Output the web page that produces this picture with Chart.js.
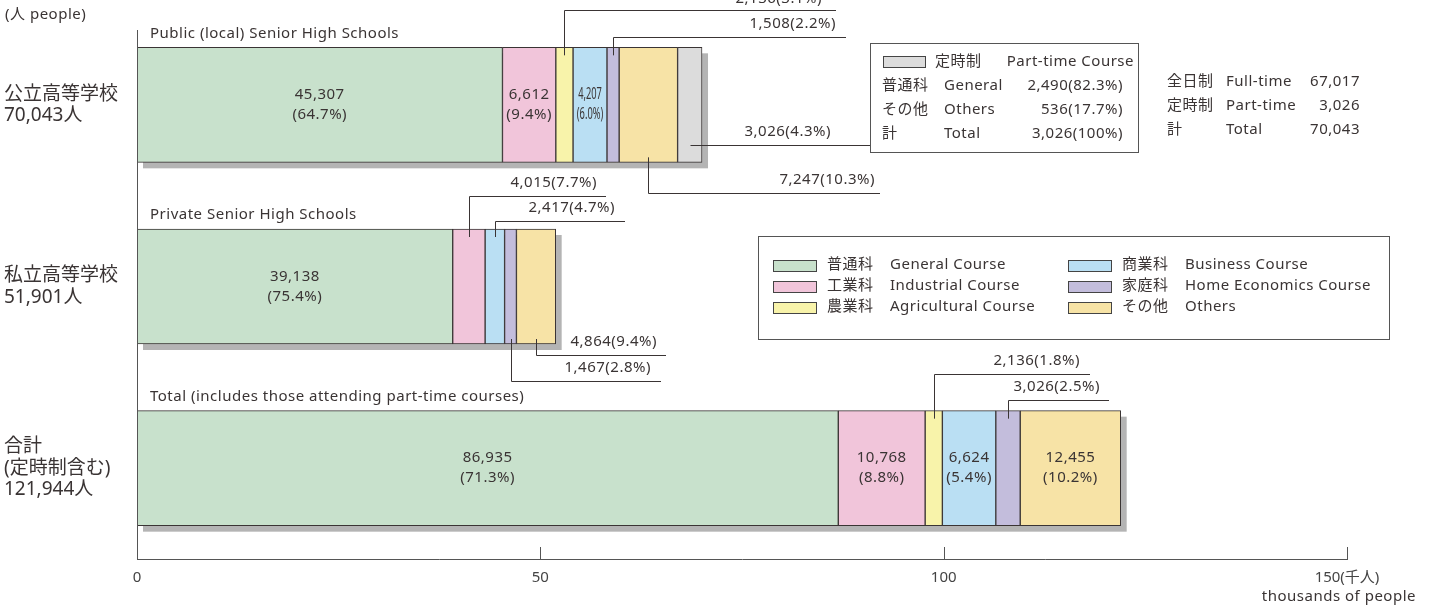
<!DOCTYPE html>
<html>
<head>
<meta charset="utf-8">
<script src="https://cdn.jsdelivr.net/npm/chart.js@4/dist/chart.umd.min.js"></script>
<style>
  body { margin: 0; background: #fff; }
  #wrap { width: 1432px; height: 607px; }
</style>
</head>
<body>
<div id="wrap"><canvas id="chart" width="1432" height="607"></canvas></div>
<script>
// categories (rows) and their titles
const categories = [['公立高等学校', '70,043人'], ['私立高等学校', '51,901人'], ['合計', '(定時制含む)', '121,944人']];
const groupTitles = ['Public (local) Senior High Schools', 'Private Senior High Schools', 'Total (includes those attending part-time courses)'];

// courses
const courseJa = ['普通科', '工業科', '農業科', '商業科', '家庭科', 'その他', '定時制'];
const courseEn = ['General Course', 'Industrial Course', 'Agricultural Course', 'Business Course', 'Home Economics Course', 'Others', 'Part-time Course'];

// students per course: [public, private, total]
const general = [45307, 39138, 86935];
const industrial = [6612, 4015, 10768];
const agricultural = [2136, 0, 2136];
const business = [4207, 2417, 6624];
const homeEconomics = [1508, 1467, 3026];
const others = [7247, 4864, 12455];
const partTime = [3026, 0, 0];

// shares in % as printed
const generalPct = [64.7, 75.4, 71.3];
const industrialPct = [9.4, 7.7, 8.8];
const agriculturalPct = [3.1, null, 1.8];
const businessPct = [6.0, 4.7, 5.4];
const homeEconomicsPct = [2.2, 2.8, 2.5];
const othersPct = [10.3, 9.4, 10.2];
const partTimePct = [4.3, null, null];

// part-time breakdown box and public school summary
const partTimeRows = [['普通科', 'General', 2490, '82.3'], ['その他', 'Others', 536, '17.7'], ['計', 'Total', 3026, '100']];
const publicSummary = [['全日制', 'Full-time', 67017], ['定時制', 'Part-time', 3026], ['計', 'Total', 70043]];

// x axis ticks (thousands of people)
const xTicks = [0, 50, 100, 150];

const colors = ['#c8e1cc', '#f1c5da', '#f8f3aa', '#badff3', '#c3bddc', '#f7e3a6', '#dcdcdc'];
const seriesValues = [general, industrial, agricultural, business, homeEconomics, others, partTime];
const seriesPct = [generalPct, industrialPct, agriculturalPct, businessPct, homeEconomicsPct, othersPct, partTimePct];

const FONT = '"Noto Sans", "Noto Sans CJK JP", sans-serif';
const INK = '#3a3434';
const fmt = v => v.toLocaleString('en-US');

function font(size) { return size + 'px ' + FONT; }

function barRect(chart, ds, cat) {
    const el = chart.getDatasetMeta(ds).data[cat];
    const p = el.getProps(['x', 'y', 'base', 'height'], true);
    const left = Math.min(p.x, p.base), right = Math.max(p.x, p.base);
    return { left, right, top: p.y - p.height / 2, bottom: p.y + p.height / 2, cx: (left + right) / 2, cy: p.y };
}

// labels inside segments: [category, dataset, narrow]
const insideLabels = [[0, 0], [0, 1], [0, 3, true], [1, 0], [2, 0], [2, 1], [2, 3], [2, 5]];

// callouts with leader lines
const callouts = [
    { cat: 0, ds: 2, dir: 'up', lineY: 10, endX: 836, textX: 822, textDy: -11 },
    { cat: 0, ds: 4, dir: 'up', lineY: 37, endX: 846, textX: 836 },
    { cat: 0, ds: 6, dir: 'right', lineY: 145, endX: 870, textX: 831 },
    { cat: 0, ds: 5, dir: 'down', lineY: 193, endX: 880, textX: 875 },
    { cat: 1, ds: 1, dir: 'up', lineY: 196, endX: 606, textX: 597 },
    { cat: 1, ds: 3, dir: 'up', lineY: 221, endX: 625, textX: 615 },
    { cat: 1, ds: 5, dir: 'down', lineY: 355, endX: 666, textX: 657 },
    { cat: 1, ds: 4, dir: 'down', lineY: 381, endX: 661, textX: 651 },
    { cat: 2, ds: 2, dir: 'up', lineY: 374, endX: 1090, textX: 1080 },
    { cat: 2, ds: 4, dir: 'up', lineY: 400, endX: 1109, textX: 1100 }
];

const deco = {
    id: 'deco',
    beforeDatasetsDraw(chart) {
        const ctx = chart.ctx;
        ctx.save();
        ctx.fillStyle = '#b4b4b4';
        categories.forEach((c, i) => {
            let left = Infinity, right = -Infinity, top = 0, h = 0;
            seriesValues.forEach((vals, d) => {
                if (!vals[i]) return;
                const r = barRect(chart, d, i);
                left = Math.min(left, r.left);
                right = Math.max(right, r.right);
                top = r.top; h = r.bottom - r.top;
            });
            ctx.fillRect(left + 6, top + 6, right - left, h);
        });
        ctx.restore();
    },
    afterDatasetsDraw(chart) {
        const ctx = chart.ctx;
        ctx.save();
        ctx.letterSpacing = '0.5px';
        ctx.fillStyle = INK;
        ctx.textBaseline = 'middle';

        // group titles
        ctx.font = font(15);
        ctx.textAlign = 'left';
        groupTitles.forEach((t, i) => {
            const r = barRect(chart, 0, i);
            ctx.fillText(t, 150, r.top - 14);
        });

        // inside labels
        ctx.textAlign = 'center';
        insideLabels.forEach(([cat, ds, narrow]) => {
            const r = barRect(chart, ds, cat);
            const l1 = fmt(seriesValues[ds][cat]);
            const l2 = '(' + seriesPct[ds][cat].toFixed(1) + '%)';
            ctx.save();
            ctx.translate(r.cx, r.cy);
            if (narrow) { ctx.scale(0.58, 1); ctx.letterSpacing = '0px'; }
            ctx.font = font(narrow ? 16 : 15);
            ctx.fillText(l1, 0, -10);
            ctx.fillText(l2, 0, 10);
            ctx.restore();
        });

        // callouts
        ctx.strokeStyle = '#3a3434';
        ctx.lineWidth = 1;
        ctx.font = font(15);
        ctx.textAlign = 'right';
        callouts.forEach(c => {
            const r = barRect(chart, c.ds, c.cat);
            const x = Math.round(r.cx) + 0.5;
            const ly = Math.round(c.lineY) + 0.5;
            ctx.beginPath();
            if (c.dir === 'up') {
                ctx.moveTo(x, r.top + 8);
                ctx.lineTo(x, ly);
            } else if (c.dir === 'down') {
                ctx.moveTo(x, r.bottom - 5);
                ctx.lineTo(x, ly);
            } else {
                ctx.moveTo(x, ly);
            }
            ctx.lineTo(c.endX, ly);
            ctx.stroke();
            const pct = seriesPct[c.ds][c.cat];
            ctx.fillText(fmt(seriesValues[c.ds][c.cat]) + '(' + pct.toFixed(1) + '%)', c.textX, c.lineY + (c.textDy || -13));
        });
        ctx.restore();
    },
    afterDraw(chart) {
        const ctx = chart.ctx;
        const xs = chart.scales.x;
        const x0 = Math.round(xs.getPixelForValue(0)) + 0.5;
        const axisY = xs.top;
        ctx.save();
        ctx.strokeStyle = '#555';
        ctx.lineWidth = 1;
        // left vertical line
        ctx.beginPath();
        ctx.moveTo(x0, 30);
        ctx.lineTo(x0, axisY);
        ctx.stroke();
        // tick marks pointing up
        xTicks.forEach(t => {
            const px = Math.round(xs.getPixelForValue(t * 1000)) + 0.5;
            ctx.beginPath();
            ctx.moveTo(px, axisY - 12);
            ctx.lineTo(px, axisY);
            ctx.stroke();
        });

        ctx.letterSpacing = '0.5px';
        ctx.fillStyle = INK;
        ctx.textBaseline = 'middle';
        ctx.font = font(15);
        ctx.textAlign = 'left';
        ctx.fillText('(人 people)', 5, 15);
        ctx.textAlign = 'right';
        ctx.fillText('thousands of people', 1416, 597);

        // part-time box
        ctx.strokeStyle = '#555';
        ctx.strokeRect(870.5, 43.5, 268, 109);
        ctx.fillStyle = colors[6];
        ctx.fillRect(883, 56, 42, 11);
        ctx.strokeStyle = '#444';
        ctx.strokeRect(883.5, 56.5, 42, 11);
        ctx.fillStyle = INK;
        ctx.textAlign = 'left';
        ctx.fillText(courseJa[6], 935, 62);
        ctx.textAlign = 'right';
        ctx.fillText(courseEn[6], 1134, 62);
        partTimeRows.forEach((row, i) => {
            const y = 86 + i * 24;
            ctx.textAlign = 'left';
            ctx.fillText(row[0], 882, y);
            ctx.fillText(row[1], 944, y);
            ctx.textAlign = 'right';
            ctx.fillText(fmt(row[2]) + '(' + row[3] + '%)', 1123, y);
        });

        // public summary
        publicSummary.forEach((row, i) => {
            const y = 82 + i * 24;
            ctx.textAlign = 'left';
            ctx.fillText(row[0], 1167, y);
            ctx.fillText(row[1], 1226, y);
            ctx.textAlign = 'right';
            ctx.fillText(fmt(row[2]), 1360, y);
        });

        // legend box
        ctx.strokeStyle = '#555';
        ctx.strokeRect(758.5, 236.5, 631, 103);
        for (let k = 0; k < 6; k++) {
            const col = Math.floor(k / 3), row = k % 3;
            const sx = col ? 1068 : 773;
            const y = 265 + row * 21;
            ctx.fillStyle = colors[k];
            ctx.fillRect(sx, y - 5, 43, 11);
            ctx.strokeStyle = '#444';
            ctx.strokeRect(sx + 0.5, y - 4.5, 43, 11);
            ctx.fillStyle = INK;
            ctx.textAlign = 'left';
            ctx.fillText(courseJa[k], sx + 54, y);
            ctx.fillText(courseEn[k], sx + 117, y);
        }
        ctx.restore();
    }
};

new Chart(document.getElementById('chart'), {
    type: 'bar',
    data: {
        labels: categories,
        datasets: seriesValues.map((vals, i) => ({
            label: courseJa[i] + ' ' + courseEn[i],
            data: vals.map(v => v || null),
            backgroundColor: colors[i],
            borderColor: '#3a3434',
            borderWidth: 1,
            borderSkipped: false,
            barThickness: 115
        }))
    },
    options: {
        indexAxis: 'y',
        responsive: false,
        animation: false,
        devicePixelRatio: 1,
        layout: { padding: { left: 4, right: 85, top: 14, bottom: 0 } },
        plugins: { legend: { display: false }, tooltip: { enabled: false } },
        scales: {
            x: {
                stacked: true,
                min: 0,
                max: 150000,
                grid: { display: false, drawTicks: false },
                border: { display: true, color: '#555', width: 1 },
                ticks: {
                    stepSize: 50000,
                    padding: 10,
                    maxRotation: 0,
                    color: '#444',
                    font: { family: FONT, size: 15 },
                    callback: v => v === 150000 ? '150(千人)' : String(v / 1000)
                },
                afterFit: s => { s.height = 48; s.paddingLeft = 0; s.paddingRight = 0; }
            },
            y: {
                stacked: true,
                grid: { display: false },
                border: { display: false },
                ticks: {
                    crossAlign: 'far',
                    padding: 0,
                    color: INK,
                    font: { family: FONT, size: 19, lineHeight: 1.13 }
                },
                afterFit: s => { s.width = 133; s.paddingTop = 0; s.paddingBottom = 0; }
            }
        }
    },
    plugins: [deco]
});
</script>
</body>
</html>
